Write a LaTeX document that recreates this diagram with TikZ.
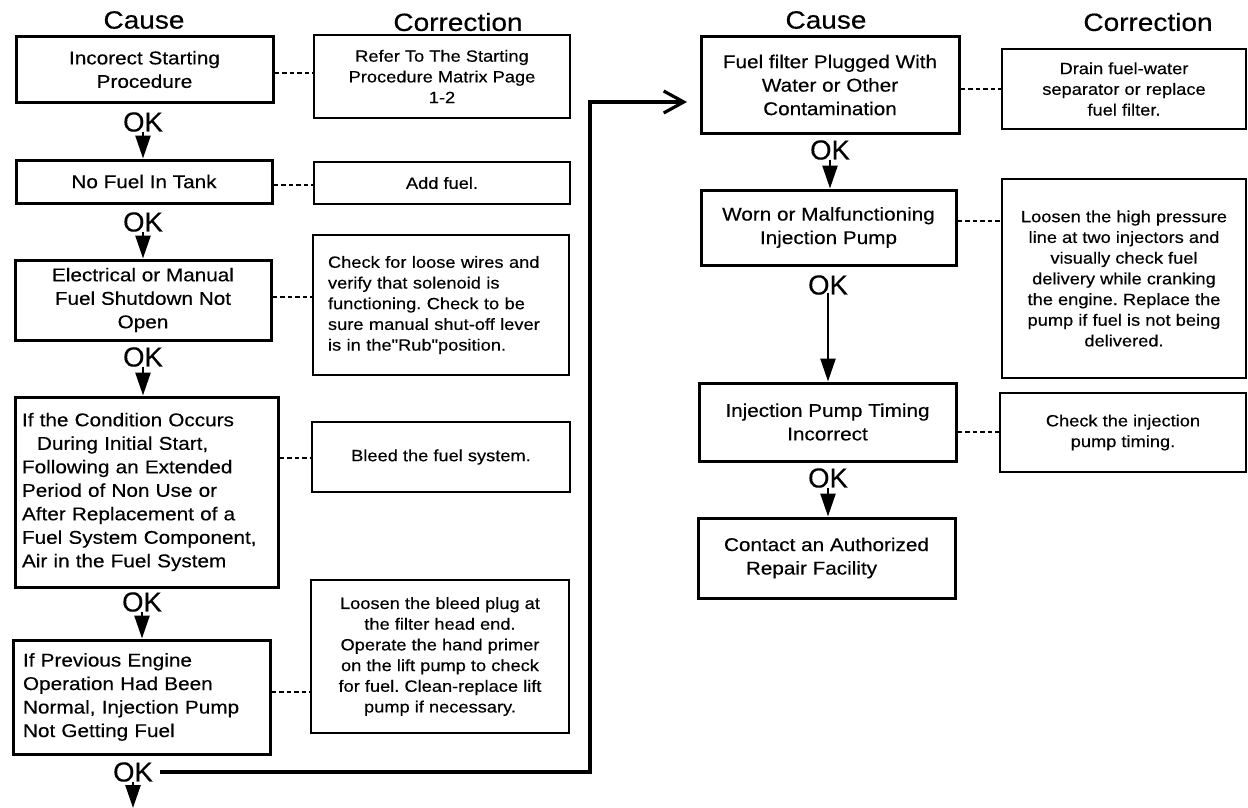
\documentclass[tikz,border=0pt]{standalone}
\usepackage{fontspec}
\setmainfont[FakeBold=0.3]{Liberation Sans}
\newfontfamily\wide[FakeStretch=1.12,FakeBold=0.35]{Liberation Sans}
\usetikzlibrary{arrows.meta}
\frenchspacing
\begin{document}
\begin{tikzpicture}[x=1pt,y=-1pt,
  causebox/.style={draw, line width=3pt, inner sep=0pt, align=center,
    font=\wide\fontsize{18.5}{23.5}\selectfont},
  corrbox/.style={draw, line width=2.6pt, inner sep=0pt, align=center,
    font=\wide\fontsize{16.3}{20.7}\selectfont},
  head/.style={inner sep=0pt, font=\wide\fontsize{25}{28}\selectfont},
  oklabel/.style={inner sep=0pt, font=\fontsize{27.5}{30}\selectfont},
  okarrow/.style={line width=2.6pt, -{Triangle[length=23pt,width=15pt]}},
  dashl/.style={line width=2pt, dash pattern=on 4.5pt off 3pt},
  longarrow/.style={line width=3.8pt, line join=miter, -{Straight Barb[length=20pt,width=22pt,line width=3.2pt]}}
]
\useasboundingbox[fill=white] (0,0) rectangle (1248,808);

% headings
\node[head] (hcause1) at (144,20) {Cause};
\node[head] (hcorr1) at (458,22) {Correction};
\node[head] (hcause2) at (826,20) {Cause};
\node[head] (hcorr2) at (1148,22) {Correction};

% left column cause boxes
\node[causebox, minimum width=257pt, minimum height=65pt] (b1) at (144.5,69.5)
  {Incorect Starting\\Procedure};
\node[causebox, minimum width=256pt, minimum height=43pt] (b2) at (144,181.5)
  {No Fuel In Tank};
\node[causebox, minimum width=256pt, minimum height=80pt] (b3) at (143,300)
  {Electrical or Manual\\Fuel Shutdown Not\\Open};
\node[causebox, align=left, text width=249pt, inner xsep=7pt, minimum height=190pt] (b4) at (146.5,492)
  {If the Condition Occurs\\\hspace*{15pt}During Initial Start,\\Following an Extended\\Period of Non Use or\\After Replacement of a\\Fuel System Component,\\Air in the Fuel System};
\node[causebox, align=left, text width=237pt, inner xsep=10pt, minimum height=114pt] (b5) at (141.5,697)
  {If Previous Engine\\Operation Had Been\\Normal, Injection Pump\\Not Getting Fuel};

% left column correction boxes
\node[corrbox, minimum width=256pt, minimum height=83pt] (c1) at (442,76.5)
  {Refer To The Starting\\Procedure Matrix Page\\1-2};
\node[corrbox, minimum width=256pt, minimum height=42pt] (c2) at (442,183)
  {Add fuel.};
\node[corrbox, align=left, text width=226pt, inner xsep=15pt, minimum height=140pt] (c3) at (441,305)
  {Check for loose wires and\\verify that solenoid is\\functioning. Check to be\\sure manual shut-off lever\\is in the"Rub"position.};
\node[corrbox, minimum width=258pt, minimum height=70pt] (c4) at (441,457)
  {Bleed the fuel system.};
\node[corrbox, minimum width=258pt, minimum height=153pt] (c5) at (440,656.5)
  {Loosen the bleed plug at\\the filter head end.\\Operate the hand primer\\on the lift pump to check\\for fuel. Clean-replace lift\\pump if necessary.};

% right column cause boxes
\node[causebox, minimum width=258pt, minimum height=96pt] (r1) at (830,85)
  {Fuel filter Plugged With\\Water or Other\\Contamination};
\node[causebox, minimum width=255pt, minimum height=75pt] (r2) at (828.5,227.5)
  {Worn or Malfunctioning\\Injection Pump};
\node[causebox, minimum width=257pt, minimum height=78pt] (r3) at (827.5,422)
  {Injection Pump Timing\\Incorrect};
\node[causebox, minimum width=257pt, minimum height=80pt] (r4) at (826.5,558)
  {Contact an Authorized\\\hspace*{-30pt}Repair Facility};

% right column correction boxes
\node[corrbox, minimum width=244pt, minimum height=80pt] (d1) at (1124,89)
  {Drain fuel-water\\separator or replace\\fuel filter.};
\node[corrbox, minimum width=244pt, minimum height=199pt] (d2) at (1124,278.5)
  {Loosen the high pressure\\line at two injectors and\\visually check fuel\\delivery while cranking\\the engine. Replace the\\pump if fuel is not being\\delivered.};
\node[corrbox, minimum width=246pt, minimum height=79pt] (d3) at (1123,432.5)
  {Check the injection\\pump timing.};

% OK labels
\node[oklabel] (ok1) at (143,122) {OK};
\node[oklabel] (ok2) at (143,222) {OK};
\node[oklabel] (ok3) at (143,357) {OK};
\node[oklabel] (ok4) at (142,602) {OK};
\node[oklabel] (ok5) at (133,772) {OK};
\node[oklabel] (okr1) at (830,150) {OK};
\node[oklabel] (okr2) at (828,285) {OK};
\node[oklabel] (okr3) at (828,478) {OK};

% down arrows
\draw[okarrow] (ok1.south) -- (ok1.south |- b2.north);
\draw[okarrow] (ok2.south) -- (ok2.south |- b3.north);
\draw[okarrow] (ok3.south) -- (ok3.south |- b4.north);
\draw[okarrow] (ok4.south) -- (ok4.south |- b5.north);
\coordinate (exit) at (133,808);
\draw[okarrow] (ok5.south) -- (exit);
\draw[okarrow] (okr1.south) -- (okr1.south |- r2.north);
\draw[okarrow] ([yshift=2pt]okr2.south) -- (okr2.south |- r3.north);
\draw[okarrow] (okr3.south) -- (okr3.south |- r4.north);

% dashed links
\draw[dashl] (b1.east |- 0,73) -- (c1.west |- 0,73);
\draw[dashl] (b2.east |- 0,185) -- (c2.west |- 0,185);
\draw[dashl] (b3.east |- 0,297) -- (c3.west |- 0,297);
\draw[dashl] (b4.east |- 0,458) -- (c4.west |- 0,458);
\draw[dashl] (b5.east |- 0,692) -- (c5.west |- 0,692);
\draw[dashl] (r1.east |- 0,89) -- (d1.west |- 0,89);
\draw[dashl] (r2.east |- 0,221) -- (d2.west |- 0,221);
\draw[dashl] (r3.east |- 0,432) -- (d3.west |- 0,432);

% continuation line
\coordinate (rtop) at (590,102);
\coordinate (tip) at (687,102);
\draw[longarrow, shorten <=7pt] (ok5.east) -| (rtop) -- (tip);
\end{tikzpicture}
\end{document}
